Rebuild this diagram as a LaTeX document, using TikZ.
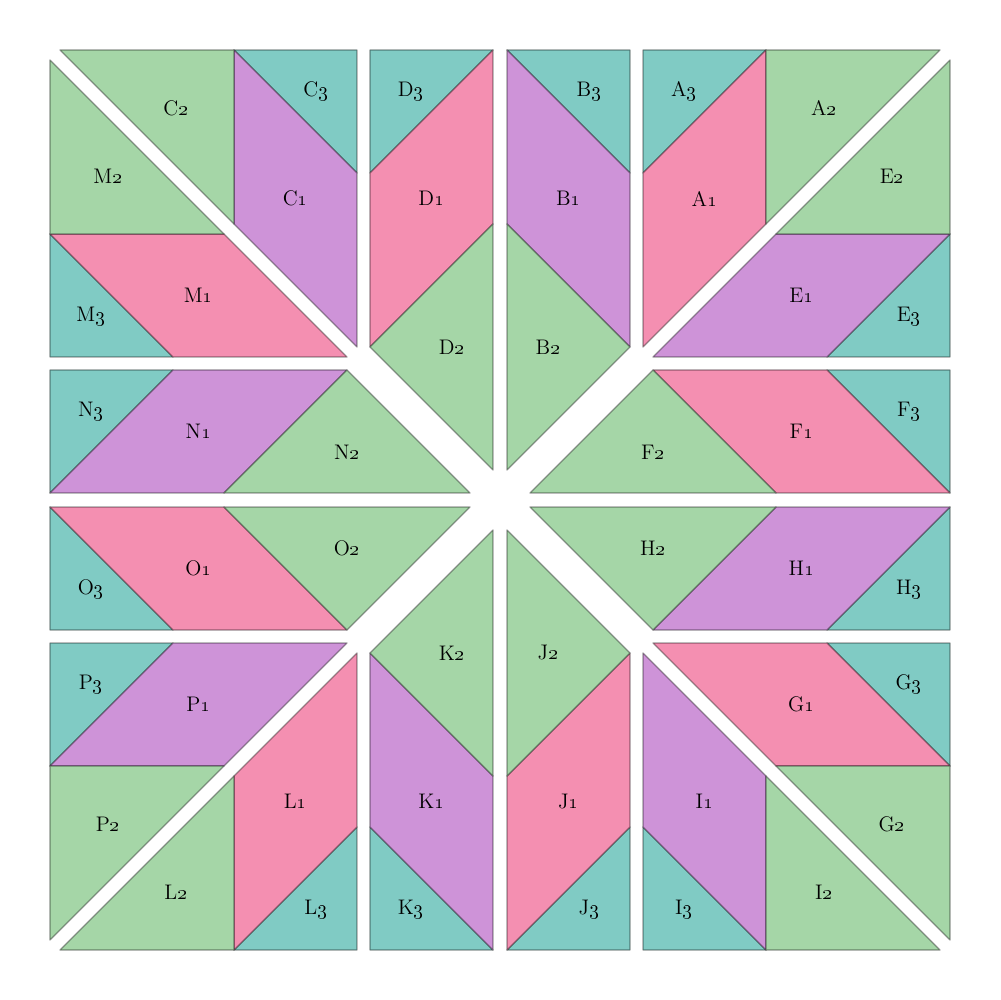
\documentclass[tikz,border=0pt]{standalone}
\usepackage{amsmath,amssymb}
\usepackage{tikz}
\definecolor{leafgreen}{HTML}{A5D6A7}
\definecolor{leafteal}{HTML}{80CBC4}
\definecolor{leafpink}{HTML}{F48FB1}
\definecolor{leafpurple}{HTML}{CE93D8}
\newcommand{\patchname}[2]{#1\oldstylenums{#2}}

\begin{document}
\begin{tikzpicture}[scale=0.02,
	patch/.style={draw=black, draw opacity=0.4, line width=0.7pt, line join=round},
	tag/.style={font=\large, inner sep=0pt}]
	\useasboundingbox (-500,-500) rectangle (500,500);
	% one quarter, mirrored into the other three
	\foreach \sx/\sy/\ca/\cb/\uA/\uB/\uE/\uF in {1/1/leafpink/leafpurple/A/B/E/F,
		-1/1/leafpurple/leafpink/C/D/M/N,
		1/-1/leafpurple/leafpink/I/J/G/H,
		-1/-1/leafpink/leafpurple/L/K/P/O}{
		\begin{scope}[xscale=\sx, yscale=\sy]
			% strip by the axis
			\draw [patch, fill=leafteal] (7,450) -- (130,450) -- (130,327) -- cycle;
			\node [tag] (\uB3) at (89,409) {\patchname{\uB}{3}};
			\draw [patch, fill=\cb] (7,450) -- (130,327) -- (130,153) -- (7,276) -- cycle;
			\node [tag] (\uB1) at (68.5,301.5) {\patchname{\uB}{1}};
			\draw [patch, fill=leafgreen] (7,276) -- (130,153) -- (7,30) -- cycle;
			\node [tag] (\uB2) at (48,153) {\patchname{\uB}{2}};
			% corner triangle, upper half
			\draw [patch, fill=leafteal] (143,450) -- (266,450) -- (143,327) -- cycle;
			\node [tag] (\uA3) at (184,409) {\patchname{\uA}{3}};
			\draw [patch, fill=\ca] (143,327) -- (266,450) -- (266,276) -- (143,153) -- cycle;
			\node [tag] (\uA1) at (204.5,301.5) {\patchname{\uA}{1}};
			\draw [patch, fill=leafgreen] (266,450) -- (440,450) -- (266,276) -- cycle;
			\node [tag] (\uA2) at (324,392) {\patchname{\uA}{2}};
			% corner triangle, lower half
			\draw [patch, fill=leafteal] (450,143) -- (450,266) -- (327,143) -- cycle;
			\node [tag] (\uE3) at (409,184) {\patchname{\uE}{3}};
			\draw [patch, fill=\cb] (327,143) -- (450,266) -- (276,266) -- (153,143) -- cycle;
			\node [tag] (\uE1) at (301.5,204.5) {\patchname{\uE}{1}};
			\draw [patch, fill=leafgreen] (450,266) -- (450,440) -- (276,266) -- cycle;
			\node [tag] (\uE2) at (392,324) {\patchname{\uE}{2}};
			% strip by the other axis
			\draw [patch, fill=leafteal] (450,7) -- (450,130) -- (327,130) -- cycle;
			\node [tag] (\uF3) at (409,89) {\patchname{\uF}{3}};
			\draw [patch, fill=\ca] (450,7) -- (327,130) -- (153,130) -- (276,7) -- cycle;
			\node [tag] (\uF1) at (301.5,68.5) {\patchname{\uF}{1}};
			\draw [patch, fill=leafgreen] (276,7) -- (153,130) -- (30,7) -- cycle;
			\node [tag] (\uF2) at (153,48) {\patchname{\uF}{2}};
		\end{scope}}
\end{tikzpicture}
\end{document}
